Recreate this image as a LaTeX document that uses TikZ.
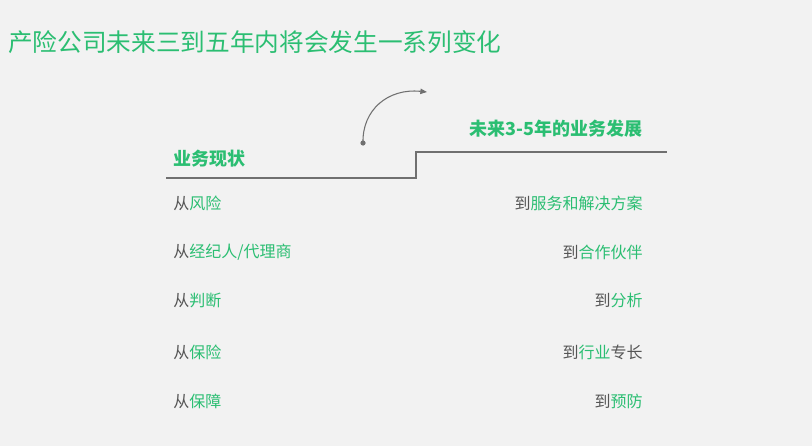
\documentclass[tikz,border=0pt]{standalone}
\usepackage{fontspec}
\setmainfont{Noto Sans CJK SC}
\newfontfamily\cjk{Noto Sans CJK SC}
\usetikzlibrary{arrows.meta}
\definecolor{bg}{HTML}{F2F2F2}
\definecolor{grn}{HTML}{2BBE72}
\definecolor{txt}{HTML}{555555}
\definecolor{ln}{HTML}{707070}
\tikzset{
  item/.style={inner sep=0pt, font=\cjk\fontsize{12pt}{14pt}\selectfont, text=txt},
  head/.style={inner sep=0pt, font=\cjk\bfseries\fontsize{13.5pt}{16pt}\selectfont, text=grn},
  stepline/.style={draw=ln, line width=1.5pt},
}
\newcommand{\g}[1]{\textcolor{grn}{#1}}
\begin{document}
\begin{tikzpicture}[x=0.75pt,y=-0.75pt]
\fill[bg] (0,0) rectangle (812,446);
\useasboundingbox (0,0) rectangle (812,446);
\node[inner sep=0pt, anchor=west, text=grn, font=\cjk\fontsize{18.5pt}{22pt}\selectfont] (title) at (8,42) {产险公司未来三到五年内将会发生一系列变化};
\coordinate (l0) at (166,178);
\coordinate (l1) at (416,178);
\coordinate (l2) at (416,152);
\coordinate (l3) at (667,152);
\draw[stepline] (l0) -- (l1) -- (l2) -- (l3);
\node[head, anchor=west] (cur) at (173,159) {业务现状};
\node[head, anchor=east] (fut) at (643,129) {未来3-5年的业务发展};
\coordinate (dot) at (363,143);
\coordinate (tip) at (427,92);
\fill[ln] (dot) circle (2.6);
\draw[ln, line width=0.8pt, -{Triangle[length=5pt,width=4pt]}] (dot) .. controls (362,110) and (388,88) .. (tip);
\node[item, anchor=west] (a1) at (173,203) {从\g{风险}};
\node[item, anchor=west] (a2) at (173,252) {从\g{经纪人/代理商}};
\node[item, anchor=west] (a3) at (173,300) {从\g{判断}};
\node[item, anchor=west] (a4) at (173,352) {从\g{保险}};
\node[item, anchor=west] (a5) at (173,401) {从\g{保障}};
\node[item, anchor=east] (b1) at (643,203) {到\g{服务和解决方案}};
\node[item, anchor=east] (b2) at (643,252) {到\g{合作伙伴}};
\node[item, anchor=east] (b3) at (643,300) {到\g{分析}};
\node[item, anchor=east] (b4) at (643,352) {到\g{行业}专长};
\node[item, anchor=east] (b5) at (643,401) {到\g{预防}};
\end{tikzpicture}
\end{document}
